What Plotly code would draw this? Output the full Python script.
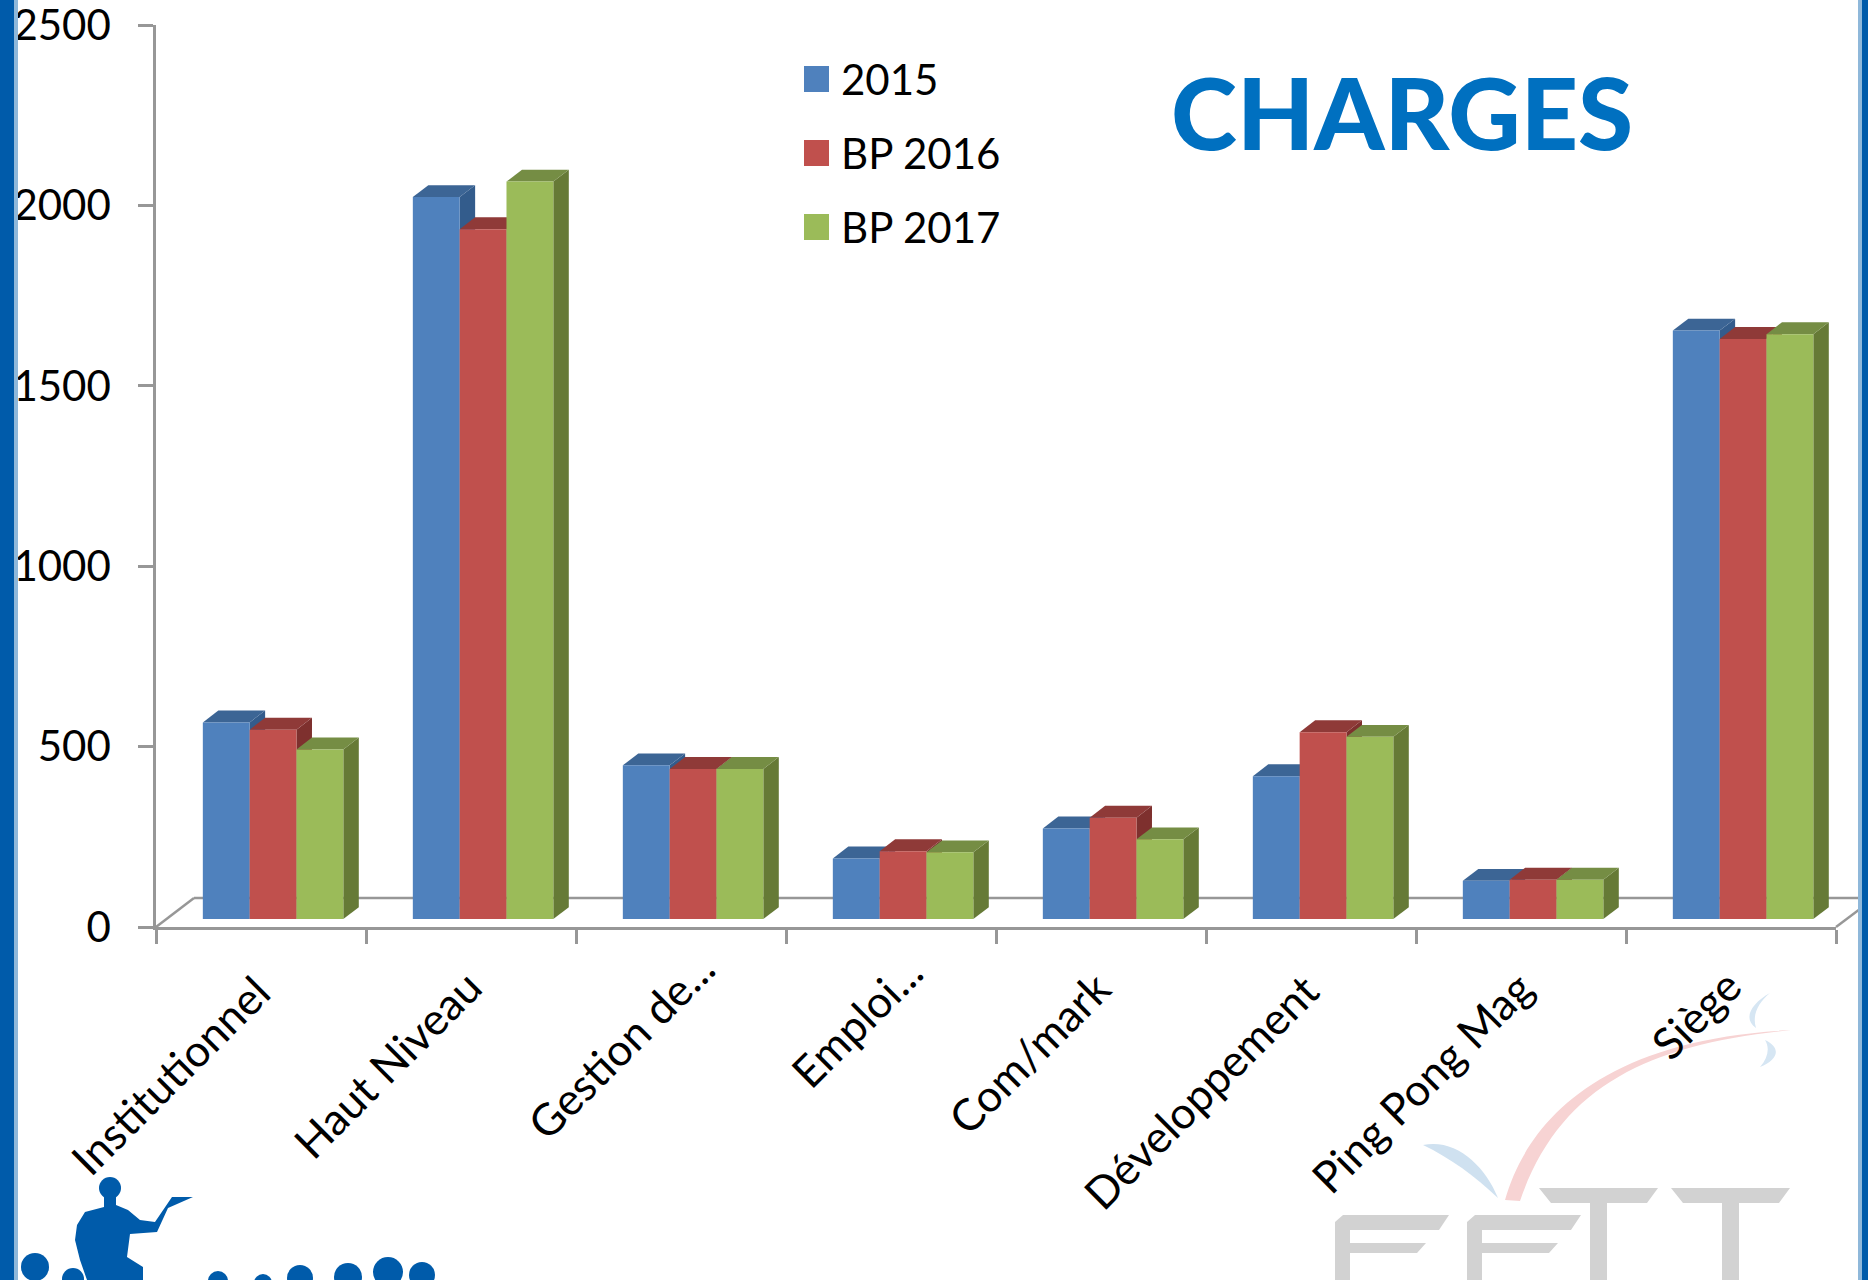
import plotly.graph_objects as go

categories = ["Institutionnel", "Haut Niveau", "Gestion de...", "Emploi...", "Com/mark",
              "Développement", "Ping Pong Mag", "Siège"]
s2015 = [545, 2001, 426, 168, 251, 396, 106, 1631]
bp2016 = [525, 1912, 416, 188, 281, 518, 109, 1608]
bp2017 = [470, 2044, 416, 185, 221, 505, 109, 1621]
series = [("2015", s2015, "#4F81BD", "#3C6595", "#335C8C"),
          ("BP 2016", bp2016, "#C0504D", "#8F3A38", "#7E302E"),
          ("BP 2017", bp2017, "#9BBB59", "#758D44", "#667A36")]
y_ticks = [0, 500, 1000, 1500, 2000, 2500]
# where each slanted category label sits: shift from its category, and page height of its centre
label_shift = [-0.435, -0.40, -0.287, -0.164, -0.341, -0.524, -0.474, -0.169]
label_y = [1075, 1064, 1045, 1021, 1052, 1091, 1082, 1014]

W, H = 1868, 1280
PAD = 20        # the figure starts above the page so that the top tick label stays inside it
L, R, T, B = 156, 1836, 25, 927
FONT = "Lato"
AXIS = "#979797"
FLOOR = 22      # bars stand this far above the axis value 0
DX, DY = 0.0737, 33   # depth of the 3D effect, in axis units
BAR_W = 0.223
FIRST = -0.277


def px(x):
    return (x - L) / (R - L)


def py(y):
    return (B - y) / (B - T)


def pt(p):
    return f"{px(p[0]):.5f},{py(p[1]):.5f}"


def path(points):
    return "M" + " L".join(pt(p) for p in points) + " Z"


def curve(start, *segments):
    d = "M" + pt(start)
    for seg in segments:
        d += " C" + " ".join(pt(p) for p in seg)
    return d + " Z"


def decor(points, color, layer="below"):
    return dict(type="path", xref="paper", yref="paper", path=path(points), fillcolor=color,
                line=dict(width=0), layer=layer)


def decor_curve(d, color):
    return dict(type="path", xref="paper", yref="paper", path=d, fillcolor=color,
                line=dict(width=0), layer="below")


def dot(cx, cy, r, color):
    return dict(type="circle", xref="paper", yref="paper", x0=px(cx - r), x1=px(cx + r),
                y0=py(cy + r), y1=py(cy - r), fillcolor=color, line=dict(width=0), layer="below")


fig = go.Figure()
shapes = []

# floor of the 3D box
for a, b in [((156, 927), (194, 898)), ((194, 898), (1868, 898)), ((1836, 927), (1868, 903))]:
    shapes.append(dict(type="line", xref="paper", yref="paper", x0=px(a[0]), y0=py(a[1]),
                       x1=px(b[0]), y1=py(b[1]), line=dict(color=AXIS, width=2.5), layer="below"))

# front faces are bars; top and side faces follow the same values
for k, (name, vals, col, top, side) in enumerate(series):
    fig.add_trace(go.Bar(name=name, x=categories, y=vals, base=FLOOR,
                         width=BAR_W, offset=FIRST + k * BAR_W,
                         marker=dict(color=col, line=dict(width=0)), showlegend=False))
    for i, v in enumerate(vals):
        x0 = i + FIRST + k * BAR_W
        x1 = x0 + BAR_W
        yb, yt = FLOOR, FLOOR + v
        shapes.append(dict(type="path", layer="below", fillcolor=side, line=dict(width=0),
                           path=f"M{x1},{yb} L{x1 + DX},{yb + DY} L{x1 + DX},{yt + DY} L{x1},{yt} Z"))
        shapes.append(dict(type="path", layer="below", fillcolor=top, line=dict(width=0),
                           path=f"M{x0},{yt} L{x0 + DX},{yt + DY} L{x1 + DX},{yt + DY} L{x1},{yt} Z"))

annotations = []
# category labels
for i, name in enumerate(categories):
    annotations.append(dict(text=name, xref="x", yref="paper", x=i + label_shift[i], y=py(label_y[i]),
                            xanchor="center", yanchor="middle", textangle=-45, showarrow=False,
                            font=dict(family=FONT, size=44, color="#000")))

# legend
for (name, vals, col, top, side), yc in zip(series, [79, 153, 227]):
    shapes.append(dict(type="rect", xref="paper", yref="paper", x0=px(804), x1=px(829),
                       y0=py(yc + 13), y1=py(yc - 13), fillcolor=col, line=dict(width=0)))
    annotations.append(dict(text=name, xref="paper", yref="paper", x=px(839), y=py(yc), xanchor="left",
                            yanchor="middle", showarrow=False, font=dict(family=FONT, size=42, color="#000")))
annotations.append(dict(text="CHARGES", xref="paper", yref="paper", x=px(1402), y=py(111),
                        xanchor="center", yanchor="middle", showarrow=False,
                        font=dict(family=FONT, size=100, weight=900, color="#0070C0")))

# side bands of the page
for x0, x1, c in [(0, 14, "#005BAA"), (14, 18, "#8FB8DA"), (1858, 1862, "#8FB8DA"), (1862, 1868, "#005BAA")]:
    shapes.append(decor([(x0, 0), (x1, 0), (x1, H), (x0, H)], c, layer="above"))

# presenter logo
BLUE = "#005BAA"
body = [(104, 1192), (104, 1207), (85, 1212), (77, 1225), (75, 1240), (80, 1260), (87, 1280), (143, 1280), (143, 1267),
        (127, 1257), (130, 1234), (157, 1232), (168, 1208), (193, 1197), (172, 1197), (155, 1222), (140, 1220),
        (128, 1210), (116, 1205), (116, 1192)]
shapes.append(decor(body, BLUE))
for cx, cy, r in [(110, 1188, 11), (35, 1267, 14), (73, 1279, 11), (218, 1281, 10), (263, 1283, 9),
                  (300, 1278, 13), (348, 1277, 14), (388, 1272, 15), (422, 1275, 13)]:
    shapes.append(dot(cx, cy, r, BLUE))

# FFTT watermark
GREY = "#D2D2D2"
for x in (1335, 1467):
    shapes.append(decor([(x, 1222), (x + 8, 1215), (x + 114, 1215), (x + 104, 1230), (x + 15, 1230), (x + 15, 1243),
                         (x + 91, 1243), (x + 82, 1253), (x + 15, 1253), (x + 15, 1280), (x, 1280)], GREY))
for x in (1539, 1671):
    shapes.append(decor([(x, 1188), (x + 119, 1188), (x + 108, 1203), (x + 68, 1203), (x + 68, 1280), (x + 51, 1280),
                         (x + 51, 1203), (x + 12, 1203)], GREY))
shapes.append(decor_curve(curve((1505, 1200), [(1525, 1130), (1590, 1040), (1791, 1030)],
                                [(1650, 1044), (1560, 1085), (1520, 1201)]), "#F7D3D3"))
shapes.append(decor_curve(curve((1423, 1145), [(1455, 1138), (1485, 1165), (1498, 1198)],
                                [(1475, 1176), (1450, 1158), (1423, 1145)]), "#CFE1F0"))
shapes.append(decor_curve(curve((1770, 993), [(1752, 1003), (1742, 1018), (1756, 1028)],
                                [(1752, 1015), (1758, 1003), (1770, 993)]), "#D6E6F3"))
shapes.append(decor_curve(curve((1765, 1040), [(1782, 1048), (1778, 1060), (1760, 1067)],
                                [(1768, 1058), (1770, 1048), (1765, 1040)]), "#D6E6F3"))

fig.update_layout(
    width=W, height=H + PAD, autosize=False, paper_bgcolor="#FFFFFF", plot_bgcolor="rgba(0,0,0,0)",
    margin=dict(l=L, r=W - R, t=T + PAD, b=H - B, pad=0), barmode="overlay", showlegend=False,
    font=dict(family=FONT, size=42, color="#000000"), shapes=shapes, annotations=annotations,
    xaxis=dict(type="category", categoryorder="array", categoryarray=categories, range=[-0.5, 7.5],
               tickson="boundaries", ticks="outside", ticklen=14, tickwidth=2.5, tickcolor=AXIS,
               showline=True, linecolor=AXIS, linewidth=2.5, showgrid=False, zeroline=False,
               showticklabels=False),
    yaxis=dict(range=[0, 2500], tickmode="array", tickvals=y_ticks, ticks="outside", ticklen=15, tickwidth=2.5,
               tickcolor=AXIS, showline=True, linecolor=AXIS, linewidth=2.5, showgrid=False, zeroline=False,
               ticklabelstandoff=19, tickfont=dict(family=FONT, size=42, color="#000")),
)

fig.write_html("out.html", config=dict(displayModeBar=False),
               post_script=f"document.body.style.margin='0';document.documentElement.style.overflow='hidden';"
                           f"document.body.style.overflow='hidden';"
                           f"document.querySelector('.plotly-graph-div').style.marginTop='-{PAD}px';")
